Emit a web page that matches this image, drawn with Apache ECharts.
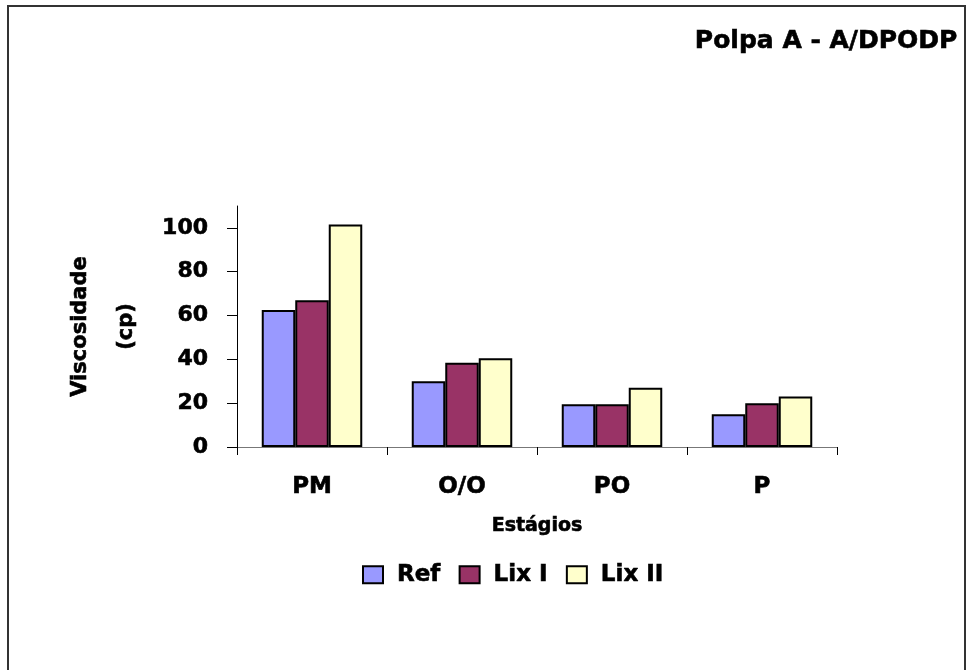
<!DOCTYPE html>
<html>
<head>
<meta charset="utf-8">
<script src="https://cdn.jsdelivr.net/npm/echarts@6/dist/echarts.min.js"></script>
<style>
html,body{margin:0;padding:0;background:#fff;overflow:hidden;}
#chart{position:absolute;left:0;top:0;width:973px;height:670px;}
#frame{position:absolute;left:7px;top:5px;width:959px;height:720px;border:2px solid #333;box-sizing:border-box;pointer-events:none;}
</style>
</head>
<body>
<div id="chart"></div>
<div id="frame"></div>
<script>
const categories = ['PM', 'O/O', 'PO', 'P'];
const seriesNames = ['Ref', 'Lix I', 'Lix II'];
const refValues = [62.5, 30, 19.5, 15];
const lix1Values = [67, 38.5, 19.5, 20];
const lix2Values = [101.5, 40.5, 27, 23];
const yTicks = [0, 20, 40, 60, 80, 100];
const colors = ['#9999FF', '#993366', '#FFFFCC'];
const titleText = 'Polpa A - A/DPODP';
const yName = 'Viscosidade\n(cp)';
const xName = 'Estágios';

const FONT = '"DejaVu Sans", Arial, sans-serif';
const heavy = {textBorderColor: '#000', textBorderWidth: 0.6};
const chart = echarts.init(document.getElementById('chart'), null, {renderer: 'canvas'});
const allValues = [refValues, lix1Values, lix2Values];

chart.setOption({
  backgroundColor: '#ffffff',
  animation: false,
  title: {
    text: titleText,
    right: 10,
    top: 24,
    textStyle: Object.assign({fontFamily: FONT, fontWeight: 'bold', fontSize: 25, color: '#000'}, heavy)
  },
  legend: {
    data: seriesNames,
    left: 357,
    top: 558,
    itemWidth: 20,
    itemHeight: 17,
    itemGap: 18,
    icon: 'rect',
    textStyle: Object.assign({fontFamily: FONT, fontWeight: 'bold', fontSize: 23, color: '#000', padding: [0, 0, 0, 9]}, heavy)
  },
  grid: {left: 237, right: 136, top: 206, bottom: 223, containLabel: false},
  xAxis: {
    type: 'category',
    data: categories,
    name: xName,
    nameLocation: 'middle',
    nameGap: 70,
    nameTextStyle: Object.assign({fontFamily: FONT, fontWeight: 'bold', fontSize: 19, color: '#000'}, heavy),
    axisLine: {show: true, lineStyle: {color: '#777', width: 1}},
    axisTick: {show: true, length: 8, lineStyle: {color: '#000'}},
    axisLabel: Object.assign({margin: 29, fontFamily: FONT, fontWeight: 'bold', fontSize: 23, color: '#000'}, heavy),
    splitLine: {show: false}
  },
  yAxis: {
    type: 'value',
    min: 0,
    max: 110,
    interval: 10,
    name: yName,
    nameLocation: 'middle',
    nameRotate: 90,
    nameGap: 87,
    nameTextStyle: Object.assign({fontFamily: FONT, fontWeight: 'bold', fontSize: 21, color: '#000', lineHeight: 46}, heavy),
    axisLine: {show: true, lineStyle: {color: '#000', width: 1}},
    axisTick: {show: true, inside: false, length: 10, lineStyle: {color: '#000'}, customValues: yTicks},
    axisLabel: Object.assign({margin: 29, fontFamily: FONT, fontWeight: 'bold', fontSize: 22, color: '#000', customValues: yTicks}, heavy),
    splitLine: {show: false}
  },
  series: seriesNames.map((n, i) => ({
    name: n,
    type: 'bar',
    data: allValues[i],
    barGap: '0%',
    barCategoryGap: '33%',
    itemStyle: {color: colors[i], borderColor: '#000', borderWidth: 2}
  }))
});
</script>
</body>
</html>
